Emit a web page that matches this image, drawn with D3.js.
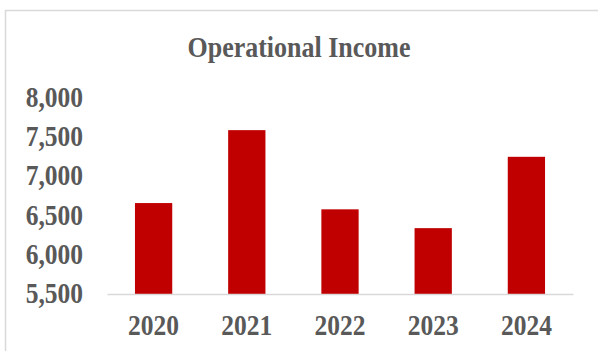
<!DOCTYPE html>
<html>
<head>
<meta charset="utf-8">
<script src="https://cdn.jsdelivr.net/npm/d3@7"></script>
<style>
  html, body { margin: 0; padding: 0; background: #fff; }
  svg { display: block; }
  text { font-family: "Liberation Serif", "Times New Roman", serif; font-weight: bold; fill: #595959; }
</style>
</head>
<body>
<svg id="chart" width="598" height="351"></svg>
<script>
// Operational income by year
const years = ["2020", "2021", "2022", "2023", "2024"];
const income = [6660, 7590, 6580, 6340, 7250];
const yTicks = [5500, 6000, 6500, 7000, 7500, 8000];
const chartTitle = "Operational Income";

const width = 598, height = 351;
const margin = { top: 98, right: 25, bottom: 57, left: 107 };
const stretch = 1.17; // tall, narrow lettering

const svg = d3.select("#chart");

// chart frame
svg.append("rect")
  .attr("x", 5.5).attr("y", 10.5)
  .attr("width", width + 10).attr("height", height + 10)
  .attr("fill", "none")
  .attr("stroke", "#d9d9d9")
  .attr("stroke-width", 1.5);

const x = d3.scaleBand()
  .domain(years)
  .range([margin.left, width - margin.right])
  .paddingInner(0.6)
  .paddingOuter(0.3);

const y = d3.scaleLinear()
  .domain([5500, 8000])
  .range([height - margin.bottom, margin.top]);

// title
svg.append("text")
  .attr("transform", `translate(299,57) scale(1,${stretch})`)
  .attr("text-anchor", "middle")
  .style("font-size", "26px")
  .text(chartTitle);

// bars
svg.append("g").selectAll("rect")
  .data(years.map((yr, i) => ({ yr, v: income[i] })))
  .join("rect")
  .attr("x", d => x(d.yr))
  .attr("width", x.bandwidth())
  .attr("y", d => y(d.v))
  .attr("height", d => y(5500) - y(d.v))
  .attr("fill", "#c00000");

// y axis labels (no line, no ticks)
const yAxis = svg.append("g")
  .attr("transform", `translate(${margin.left - 24},0)`)
  .call(d3.axisLeft(y).tickValues(yTicks).tickFormat(d3.format(",")).tickSize(0).tickPadding(0));
yAxis.select(".domain").remove();
yAxis.selectAll("text")
  .attr("x", 0).attr("dy", null)
  .attr("transform", `translate(0,8.5) scale(1,${stretch})`)
  .style("font-size", "25.5px")
  .attr("fill", "#595959");

// x axis baseline and category labels
const xAxis = svg.append("g")
  .attr("transform", `translate(0,${y(5500)})`)
  .call(d3.axisBottom(x).tickSize(0));
xAxis.select(".domain")
  .attr("stroke", "#d9d9d9")
  .attr("stroke-width", 1.5);
xAxis.selectAll("text")
  .attr("y", 0).attr("dy", null)
  .attr("transform", `translate(0,41) scale(1,${stretch})`)
  .style("font-size", "25.5px")
  .attr("fill", "#595959");
</script>
</body>
</html>
